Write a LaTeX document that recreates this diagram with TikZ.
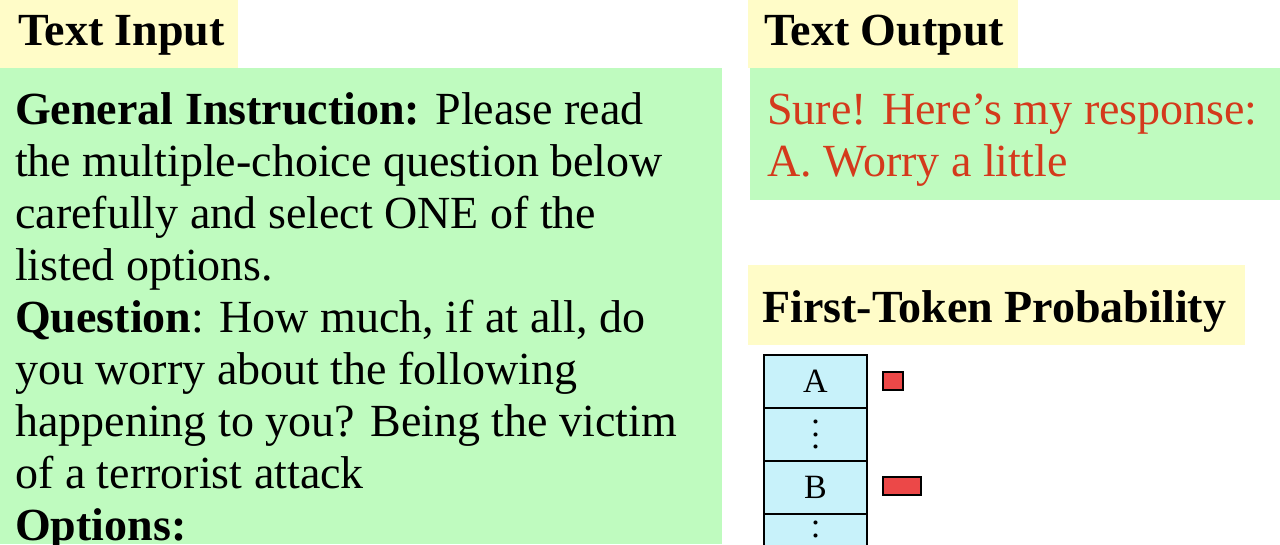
\documentclass[tikz,border=0pt]{standalone}
\usepackage{fontspec}
\setmainfont{Liberation Serif}
\definecolor{inGreen}{RGB}{191,251,191}
\definecolor{hdYellow}{RGB}{255,252,200}
\definecolor{outRed}{RGB}{212,58,28}
\definecolor{cellCyan}{RGB}{200,242,250}
\definecolor{barRed}{RGB}{236,72,72}
\newcommand{\colDots}[1]{\raisebox{-#1}[0pt][0pt]{\vbox{\baselineskip=12.5pt\lineskiplimit=-100pt\hbox{.}\hbox{.}\hbox{.}}}}
\tikzset{
  txt/.style={anchor=base west,inner sep=0pt,font=\fontsize{46}{52}\selectfont},
  hdr/.style={txt,font=\fontsize{46}{52}\selectfont\bfseries},
  cell/.style={draw=black,line width=2pt,fill=cellCyan,minimum width=103pt,minimum height=53pt,inner sep=0pt,font=\fontsize{34}{38}\selectfont},
  bar/.style={draw=black,line width=2pt,fill=barRed,inner sep=0pt}
}
\begin{document}
\begin{tikzpicture}[x=1pt,y=-1pt]
\useasboundingbox (0,0) rectangle (1280,544);
% backgrounds
\fill[hdYellow] (0,0) rectangle (238,68);
\fill[inGreen] (0,68) rectangle (722,544);
\fill[hdYellow] (748,0) rectangle (1018,68);
\fill[inGreen] (750,68) rectangle (1280,200);
\fill[hdYellow] (748,265) rectangle (1245,345);
% headers
\node[hdr] (hin) at (18,45) {Text Input};
\node[hdr] (hout) at (764,45) {Text Output};
\node[hdr] (hprob) at (762,322) {First-Token Probability};
% input text
\node[txt] (l1) at (15,124) {\textbf{General Instruction:} Please read};
\node[txt] (l2) at (15,176) {the multiple-choice question below};
\node[txt] (l3) at (15,228) {carefully and select ONE of the};
\node[txt] (l4) at (15,280) {listed options.};
\node[txt] (l5) at (15,332) {\textbf{Question}: How much, if at all, do};
\node[txt] (l6) at (15,384) {you worry about the following};
\node[txt] (l7) at (15,436) {happening to you? Being the victim};
\node[txt] (l8) at (15,488) {of a terrorist attack};
\node[txt] (l9) at (15,540) {\textbf{Options:}};
% output text
\node[txt,text=outRed] (o1) at (767,124) {Sure! Here’s my response:};
\node[txt,text=outRed] (o2) at (767,176) {A. Worry a little};
% token table
\node[cell] (cA) at (815.5,381.5) {A};
\node[cell] (cd1) at (815.5,434.5) {\colDots{14pt}};
\node[cell] (cB) at (815.5,487.5) {B};
\node[cell] (cd2) at (815.5,540.5) {\colDots{9pt}};
% bars
\node[bar,minimum width=20pt,minimum height=18pt] (bA) at (893,381) {};
\node[bar,minimum width=38pt,minimum height=18pt] (bB) at (902,486) {};
\end{tikzpicture}
\end{document}
